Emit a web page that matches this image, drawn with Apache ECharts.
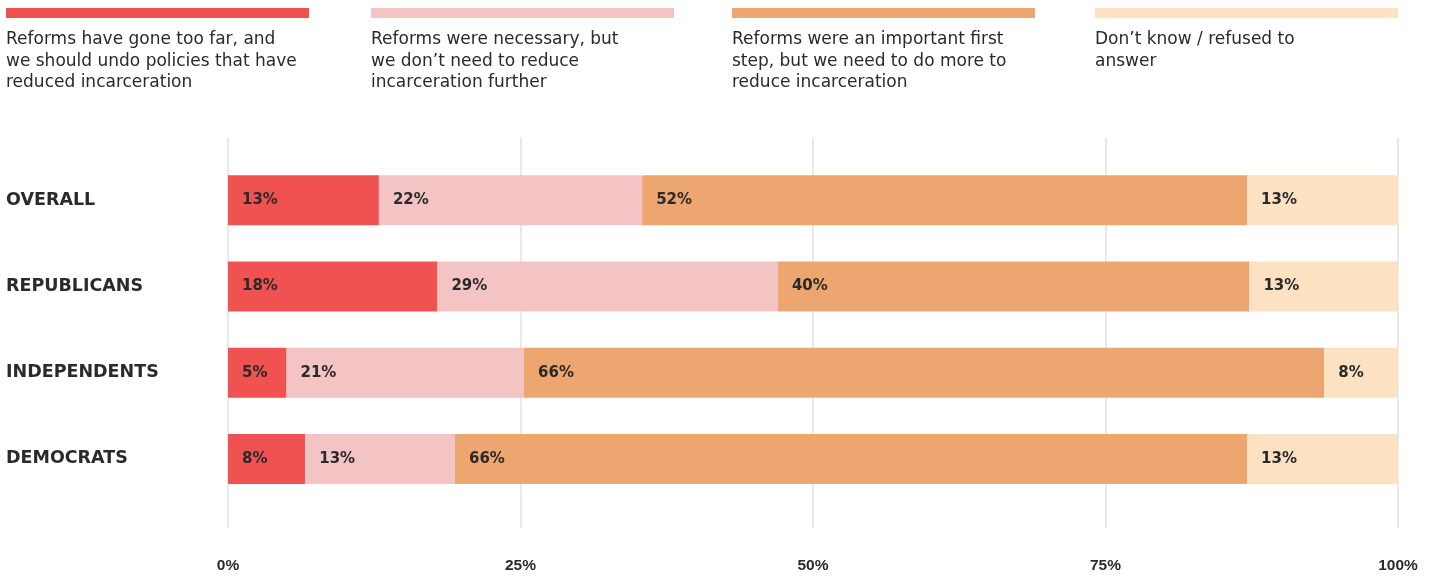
<!DOCTYPE html>
<html>
<head>
<meta charset="utf-8">
<script src="https://cdn.jsdelivr.net/npm/echarts@6/dist/echarts.min.js"></script>
<style>
html,body{margin:0;padding:0;background:#fff;}
#chart{width:1434px;height:577px;}
</style>
</head>
<body>
<div id="chart"></div>
<script>
// ---- data ----
const categories = ['OVERALL', 'REPUBLICANS', 'INDEPENDENTS', 'DEMOCRATS'];
const seriesNames = [
  'Reforms have gone too far, and\nwe should undo policies that have\nreduced incarceration',
  'Reforms were necessary, but\nwe don\u2019t need to reduce\nincarceration further',
  'Reforms were an important first\nstep, but we need to do more to\nreduce incarceration',
  'Don\u2019t know / refused to\nanswer'
];
// bar lengths (% of total)
const goneTooFar   = [12.9, 17.9, 5.0, 6.6];
const notFurther   = [22.5, 29.1, 20.3, 12.8];
const firstStep    = [51.7, 40.3, 68.4, 67.7];
const dontKnow     = [12.9, 12.7, 6.3, 12.9];
// printed data labels
const goneTooFarLabels = [13, 18, 5, 8];
const notFurtherLabels = [22, 29, 21, 13];
const firstStepLabels  = [52, 40, 66, 66];
const dontKnowLabels   = [13, 13, 8, 13];
const xTickLabels = ['0%', '25%', '50%', '75%', '100%'];

// ---- style ----
const colors = ['#F05252', '#F4C4C4', '#EEA670', '#FCE1C3'];
const textColor = '#2a2a2a';
const legendX = [6, 371, 732, 1095];

const values = [goneTooFar, notFurther, firstStep, dontKnow];
const labels = [goneTooFarLabels, notFurtherLabels, firstStepLabels, dontKnowLabels];

const chart = echarts.init(document.getElementById('chart'), null, {renderer: 'canvas'});

const graphics = [];
seriesNames.forEach((name, i) => {
  graphics.push({
    type: 'rect', left: legendX[i], top: 8,
    shape: {width: 303, height: 10},
    style: {fill: colors[i]}, silent: true
  });
  graphics.push({
    type: 'text', left: legendX[i], top: 29,
    style: {
      text: name, fill: textColor,
      font: 'normal 17px "DejaVu Sans"',
      lineHeight: 21.5
    }, silent: true
  });
});

const option = {
  animation: false,
  backgroundColor: '#ffffff',
  graphic: graphics,
  grid: [
    {left: 228, right: 36, top: 138, bottom: 49},
    {left: 228, right: 36, top: 157, height: 345}
  ],
  xAxis: [
    {
      gridIndex: 0, type: 'value', min: 0, max: 100, interval: 25,
      axisLine: {show: false}, axisTick: {show: false},
      splitLine: {show: true, lineStyle: {color: '#e2e2e2', width: 1.5}},
      axisLabel: {
        margin: 30, color: textColor,
        fontFamily: 'Liberation Sans', fontWeight: 'bold', fontSize: 15.5,
        formatter: (v) => xTickLabels[Math.round(v / 25)]
      }
    },
    {
      gridIndex: 1, type: 'value', min: 0, max: 100,
      show: false
    }
  ],
  yAxis: [
    {gridIndex: 0, type: 'category', data: categories, show: false},
    {
      gridIndex: 1, type: 'category', data: categories, inverse: true,
      axisLine: {show: false}, axisTick: {show: false},
      axisLabel: {
        align: 'left', margin: 222, color: textColor,
        fontFamily: 'DejaVu Sans', fontWeight: 'bold', fontSize: 17.5
      }
    }
  ],
  series: values.map((arr, i) => ({
    name: seriesNames[i],
    type: 'bar', stack: 'total',
    xAxisIndex: 1, yAxisIndex: 1,
    barWidth: 50,
    itemStyle: {color: colors[i]},
    label: {
      show: true, position: 'insideLeft', distance: 14,
      color: textColor, fontFamily: 'DejaVu Sans', fontWeight: 'bold', fontSize: 15,
      formatter: (p) => labels[i][p.dataIndex] + '%'
    },
    data: arr
  }))
};
chart.setOption(option);
</script>
</body>
</html>
